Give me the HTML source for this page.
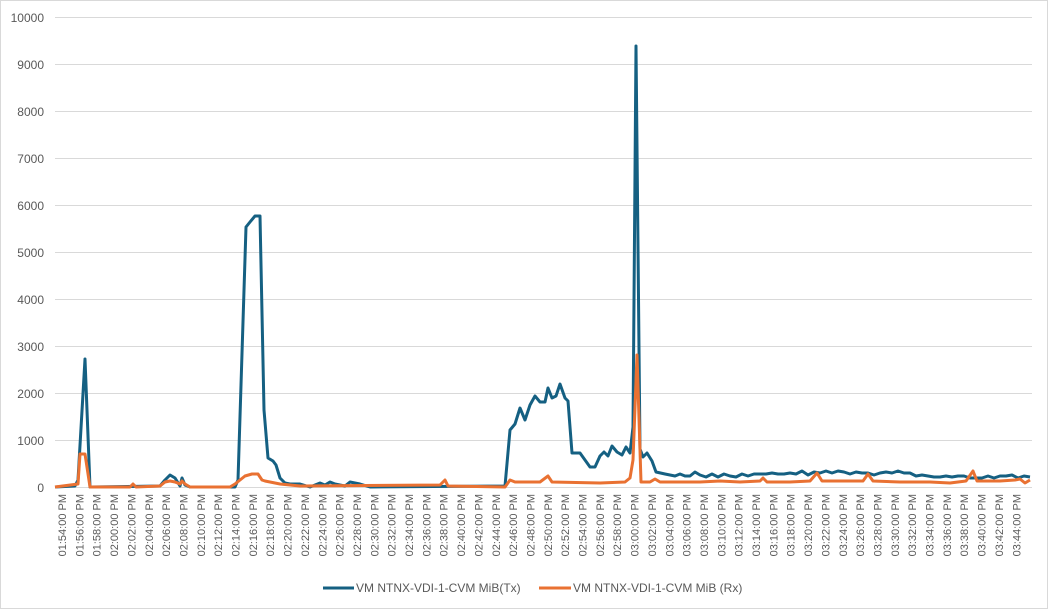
<!DOCTYPE html>
<html><head><meta charset="utf-8"><style>
html,body{margin:0;padding:0;background:#fff}
svg{display:block;font-family:"Liberation Sans",sans-serif}
</style></head><body>
<svg width="1049" height="610" xmlns="http://www.w3.org/2000/svg">
<rect x="0.5" y="0.5" width="1047" height="608" fill="#fff" stroke="#d9d9d9"/>
<g stroke="#d9d9d9" stroke-width="1">
<line x1="55" x2="1032" y1="17.5" y2="17.5"/><line x1="55" x2="1032" y1="64.5" y2="64.5"/>
<line x1="55" x2="1032" y1="111.5" y2="111.5"/><line x1="55" x2="1032" y1="158.5" y2="158.5"/>
<line x1="55" x2="1032" y1="205.5" y2="205.5"/><line x1="55" x2="1032" y1="252.5" y2="252.5"/>
<line x1="55" x2="1032" y1="299.5" y2="299.5"/><line x1="55" x2="1032" y1="346.5" y2="346.5"/>
<line x1="55" x2="1032" y1="393.5" y2="393.5"/><line x1="55" x2="1032" y1="440.5" y2="440.5"/>
<line x1="55" x2="1032" y1="487.5" y2="487.5"/>
</g>
<g fill="#595959" font-size="12" text-anchor="end">
<text x="44" y="22">10000</text><text x="44" y="69">9000</text><text x="44" y="116">8000</text>
<text x="44" y="163">7000</text><text x="44" y="210">6000</text><text x="44" y="257">5000</text>
<text x="44" y="304">4000</text><text x="44" y="351">3000</text><text x="44" y="398">2000</text>
<text x="44" y="445">1000</text><text x="44" y="492">0</text>
</g>
<g id="xl" fill="#595959" font-size="11" text-anchor="end"></g>
<polyline fill="none" stroke="#156082" stroke-width="3" stroke-linejoin="round" points="55,487 75,486 78,480 85,359 90,487 160,486 165,480 170,475 175,478 180,486 182,478 185,485 190,487 235,487 238,480 246,227 250,222 255,216 260,216 264,410 268,458 273,461 276,465 280,478 285,483 290,484 300,484 310,487 320,483 325,485 330,482 335,484 345,486 350,482 360,484 370,487 505,486 510,430 515,424 520,408 525,420 530,405 535,396 540,402 545,402 548,388 552,398 556,396 560,384 565,398 568,401 572,453 580,453 585,460 590,467 595,467 600,456 604,452 608,456 612,446 617,452 622,455 626,447 630,453 633,427 636,46 640,449 643,457 647,453 652,461 656,472 665,474 670,475 675,476 680,474 685,476 690,476 695,472 700,475 706,477 712,474 718,477 724,474 730,476 736,477 742,474 748,476 754,474 760,474 766,474 772,473 778,474 784,474 790,473 796,474 802,471 808,475 814,472 820,473 826,471 832,473 838,471 844,472 850,474 856,472 862,473 868,473 874,475 880,473 886,472 892,473 898,471 904,473 910,473 916,476 922,475 928,476 934,477 940,477 946,476 952,477 958,476 964,476 970,478 976,478 982,478 988,476 994,478 1000,476 1006,476 1012,475 1018,478 1024,476 1030,477"/>
<polyline fill="none" stroke="#e97132" stroke-width="3" stroke-linejoin="round" points="55,487 78,484 80,454 85,454 90,487 130,487 133,484 136,487 160,486 165,482 170,481 175,482 180,484 182,481 185,484 190,487 230,487 235,484 240,480 245,476 252,474 258,474 262,480 265,481 270,482 280,484 300,486 440,485 445,480 448,486 505,487 510,480 515,482 540,482 548,476 552,482 600,483 625,482 630,478 633,460 637,355 641,482 650,482 655,479 660,482 700,482 720,481 740,482 760,481 763,478 767,482 790,482 810,481 817,473 822,481 850,481 863,481 868,474 873,481 900,482 930,482 950,483 966,481 973,471 977,481 1000,481 1015,480 1020,479 1025,483 1030,480"/>
<line x1="323" x2="354" y1="588" y2="588" stroke="#156082" stroke-width="3"/>
<text x="356" y="592" font-size="12" fill="#595959">VM NTNX-VDI-1-CVM MiB(Tx)</text>
<line x1="539" x2="571" y1="588" y2="588" stroke="#e97132" stroke-width="3"/>
<text x="573" y="592" font-size="12" fill="#595959">VM NTNX-VDI-1-CVM MiB (Rx)</text>
</svg>
<script>
var g=document.getElementById('xl'),s='';
for(var i=0;i<56;i++){var m=114+2*i,h=Math.floor(m/60),mm=m%60;
var t=(h<10?'0':'')+h+':'+(mm<10?'0':'')+mm+':00 PM';
var x=62+i*17.35+4;
s+='<text transform="translate('+x.toFixed(1)+',494) rotate(-90)">'+t+'</text>';}
g.innerHTML=s;
</script>
</body></html>
